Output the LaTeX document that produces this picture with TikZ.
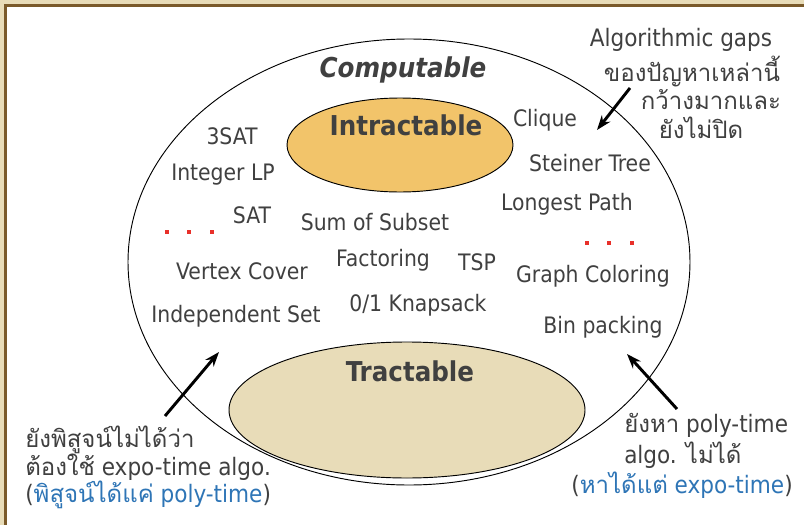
\documentclass[tikz,border=0pt]{standalone}
\usepackage{fontspec}
\setmainfont{DejaVu Sans Condensed}
\newfontfamily\thai[Script=Thai]{Loma}
\usetikzlibrary{arrows.meta,shapes.geometric}
\definecolor{bgtan}{HTML}{E8DCB8}
\definecolor{framebrown}{HTML}{7A5A2A}
\definecolor{intrfill}{HTML}{F2C46A}
\definecolor{tractfill}{HTML}{E8DCB8}
\definecolor{txtgray}{HTML}{404040}
\definecolor{txtblue}{HTML}{2E75B6}
\definecolor{dotred}{HTML}{E8302A}
\begin{document}
\begin{tikzpicture}[x=0.75pt,y=-0.75pt,
  lbl/.style={text=txtgray,font=\fontsize{17}{20}\selectfont,inner sep=0pt},
  note/.style={text=txtgray,font=\fontsize{18}{21}\selectfont,inner sep=0pt},
  title/.style={text=txtgray,font=\fontsize{20.5}{24}\selectfont\bfseries,inner sep=0pt},
  setell/.style={ellipse,draw=black,line width=0.7pt,inner sep=0pt},
  bigarrow/.style={line width=2.2pt,-{Stealth[length=11pt,width=8pt]}},
  rdot/.style={fill=dotred,minimum size=3pt,inner sep=0pt}]
\useasboundingbox (0,0) rectangle (804,525);
\fill[bgtan] (0,0) rectangle (804,525);
\fill[white] (5.5,5.5) rectangle (804,525);
\draw[framebrown,line width=2.25pt] (5.5,525) -- (5.5,5.5) -- (804,5.5);

\node[setell,fill=white,minimum width=421.5pt,minimum height=334.5pt] (comp) at (409,262) {};
\node[setell,fill=intrfill,minimum width=169.5pt,minimum height=70.5pt] (intr) at (400,145) {};
\node[setell,fill=tractfill,minimum width=267pt,minimum height=102pt] (tract) at (407,410) {};

\node[title,font=\fontsize{20.5}{24}\selectfont\bfseries\itshape] (tcomp) at (403,70) {Computable};
\node[title] (tintr) at (406,125) {Intractable};
\node[title] (ttract) at (410,371) {Tractable};

\node[lbl] (clique) at (545,120) {Clique};
\node[lbl] (sat3) at (232,136) {3SAT};
\node[lbl] (steiner) at (590,163) {Steiner Tree};
\node[lbl] (ilp) at (223,175) {Integer LP};
\node[lbl] (lpath) at (567,204) {Longest Path};
\node[lbl] (sat) at (252,215) {SAT};
\node[lbl] (subset) at (375,222) {Sum of Subset};
\node[lbl] (fact) at (383,260) {Factoring};
\node[lbl] (tsp) at (477,262) {TSP};
\node[lbl] (vc) at (242,271) {Vertex Cover};
\node[lbl] (gc) at (593,276) {Graph Coloring};
\node[lbl] (knap) at (418,305) {0/1 Knapsack};
\node[lbl] (is) at (236,316) {Independent Set};
\node[lbl] (bin) at (603,327) {Bin packing};

\node[rdot] (d1) at (167,232) {};
\node[rdot] (d2) at (189,232) {};
\node[rdot] (d3) at (212,232) {};
\node[rdot] (d4) at (587,243) {};
\node[rdot] (d5) at (609,243) {};
\node[rdot] (d6) at (632,243) {};

\node[note] (g1) at (681,40) {Algorithmic gaps};
\node[note] (g2) at (692,72) {\thai ของปัญหาเหล่านี้};
\node[note] (g3) at (711,100) {\thai กว้างมากและ};
\node[note] (g4) at (701,128) {\thai ยังไม่ปิด};

\node[note,anchor=west] (l1) at (25,440) {\thai ยังพิสูจน์ไม่ได้ว่า};
\node[note,anchor=west] (l2) at (25,467) {{\thai ต้องใช้} expo-time algo.};
\node[note,anchor=west] (l3) at (25,495) {(\textcolor{txtblue}{{\thai พิสูจน์ได้แค่} poly-time})};

\node[note,anchor=west] (r1) at (624,425) {{\thai ยังหา} poly-time};
\node[note,anchor=west] (r2) at (624,455) {algo. {\thai ไม่ได้}};
\node[note,anchor=east] (r3) at (793,485) {(\textcolor{txtblue}{{\thai หาได้แต่} expo-time})};

\coordinate (ga) at (630,88);
\coordinate (gb) at (597,130);
\coordinate (la) at (165,416);
\coordinate (lb) at (219,352);
\coordinate (ra) at (677,409);
\coordinate (rb) at (627,354);
\draw[bigarrow] (ga) -- (gb);
\draw[bigarrow] (la) -- (lb);
\draw[bigarrow] (ra) -- (rb);
\end{tikzpicture}
\end{document}
